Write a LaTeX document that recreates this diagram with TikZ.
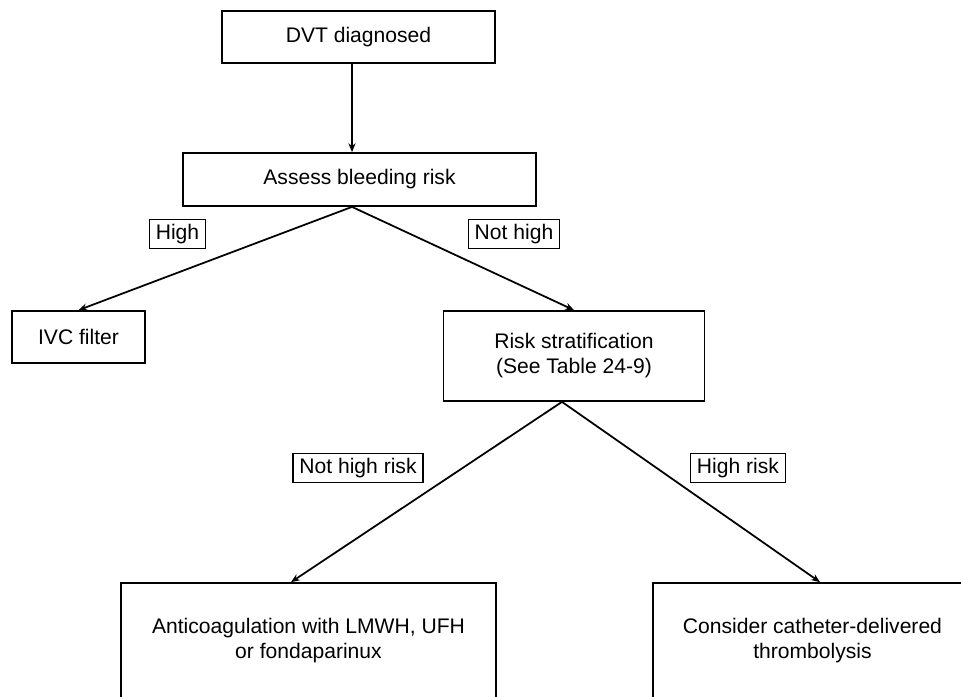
\documentclass[tikz,border=0pt]{standalone}
\usepackage{fontspec}
\setmainfont{Liberation Sans}
\tikzstyle{box} = [draw=black, line width=1pt, rectangle, align=center, inner sep=0pt, font=\fontsize{12}{14.2}\selectfont]
\tikzstyle{tag} = [draw=black, line width=0.8pt, rectangle, inner xsep=3.6pt, inner ysep=2.5pt, minimum height=0.56cm, font=\fontsize{12}{14.2}\selectfont]
\tikzstyle{myarrow} = [line width=1pt, -{Stealth[length=5pt, width=4pt]}]
\usetikzlibrary{positioning, arrows.meta}

\begin{document}
\begin{tikzpicture}[node distance=1.5cm]

		\clip (0,0) rectangle (19.22,-13.94);

		% diagnosis and bleeding risk
		\node[box, minimum width=5.46cm, minimum height=1.04cm] (dvt) at (7.17,-0.74) {DVT diagnosed};
		\node[box, minimum width=7.06cm, minimum height=1.06cm, below of=dvt, node distance=2.85cm, xshift=0.02cm] (assess) {Assess bleeding risk};

		% first branch
		\node[box, minimum width=2.66cm, minimum height=1.04cm, below of=assess, node distance=3.15cm, xshift=-5.62cm] (ivc) {IVC filter};
		\node[box, minimum width=5.22cm, minimum height=1.80cm, below of=assess, node distance=3.53cm, xshift=4.29cm] (risk) {Risk stratification\\(See Table 24-9)};

		% treatment
		\node[box, minimum width=7.50cm, minimum height=2.32cm, below of=risk, node distance=5.70cm, xshift=-5.31cm] (antico) {Anticoagulation with LMWH, UFH\\or fondaparinux};
		\node[box, minimum width=6.38cm, minimum height=2.32cm, right of=antico, node distance=10.08cm] (lysis) {Consider catheter-delivered\\thrombolysis};

		% branch labels
		\node[tag] (high) at (3.55,-4.68) {High};
		\node[tag] (nothigh) at (10.28,-4.68) {Not high};
		\node[tag] (nothighrisk) at (7.16,-9.36) {Not high risk};
		\node[tag] (highrisk) at (14.76,-9.36) {High risk};

		% connections
		\draw [myarrow] ([xshift=-0.13cm]dvt.south) -- ([xshift=-0.15cm]assess.north);
		\draw [myarrow] ([xshift=-0.15cm]assess.south) -- (ivc.north);
		\draw [myarrow] ([xshift=-0.15cm]assess.south) -- (risk.north);
		\draw [myarrow] ([xshift=-0.24cm]risk.south) -- ([xshift=-0.35cm]antico.north);
		\draw [myarrow] ([xshift=-0.24cm]risk.south) -- ([xshift=0.15cm]lysis.north);

	\end{tikzpicture}
\end{document}
